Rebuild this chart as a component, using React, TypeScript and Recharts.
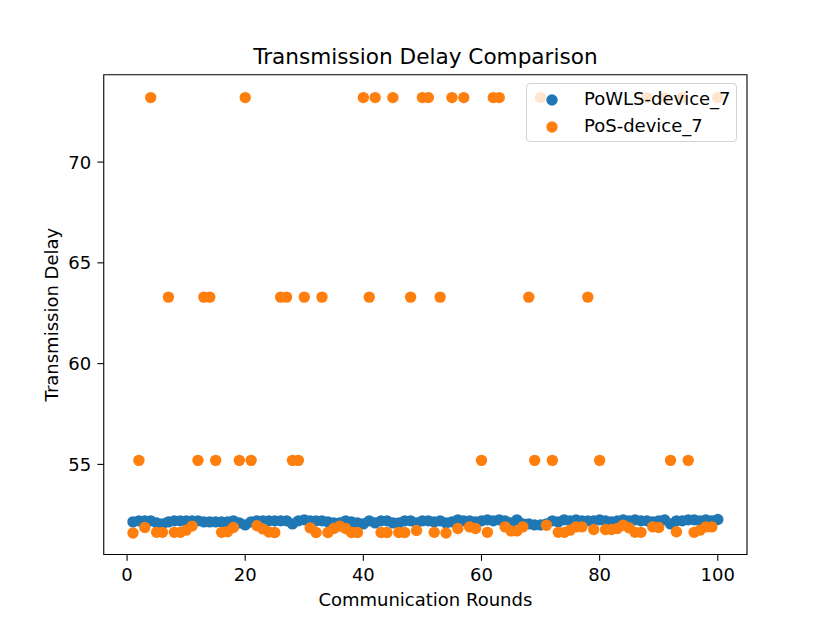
import { ScatterChart, Scatter, XAxis, YAxis, Legend, ReferenceArea } from 'recharts';

// communication rounds (x values)
const rounds = [
  1, 2, 3, 4, 5, 6, 7, 8, 9, 10, 11, 12, 13, 14, 15, 16, 17, 18, 19, 20,
  21, 22, 23, 24, 25, 26, 27, 28, 29, 30, 31, 32, 33, 34, 35, 36, 37, 38, 39, 40,
  41, 42, 43, 44, 45, 46, 47, 48, 49, 50, 51, 52, 53, 54, 55, 56, 57, 58, 59, 60,
  61, 62, 63, 64, 65, 66, 67, 68, 69, 70, 71, 72, 73, 74, 75, 76, 77, 78, 79, 80,
  81, 82, 83, 84, 85, 86, 87, 88, 89, 90, 91, 92, 93, 94, 95, 96, 97, 98, 99, 100,
];

// PoWLS-device_7 delays
const powlsDelay = [
  52.15, 52.2, 52.2, 52.2, 52.1, 52.05, 52.15, 52.2, 52.2, 52.2,
  52.2, 52.2, 52.15, 52.15, 52.15, 52.15, 52.15, 52.2, 52.1, 52.0,
  52.15, 52.2, 52.2, 52.2, 52.2, 52.2, 52.2, 52.05, 52.2, 52.25,
  52.2, 52.2, 52.2, 52.15, 52.1, 52.1, 52.2, 52.15, 52.1, 52.05,
  52.2, 52.1, 52.2, 52.2, 52.1, 52.1, 52.2, 52.2, 52.1, 52.2,
  52.2, 52.15, 52.2, 52.1, 52.15, 52.25, 52.2, 52.2, 52.15, 52.2,
  52.25, 52.2, 52.25, 52.2, 52.1, 52.25, 52.05, 52.05, 52.0, 52.0,
  52.05, 52.2, 52.15, 52.25, 52.2, 52.25, 52.2, 52.2, 52.2, 52.25,
  52.2, 52.15, 52.2, 52.25, 52.2, 52.25, 52.2, 52.2, 52.15, 52.2,
  52.25, 52.05, 52.2, 52.2, 52.25, 52.25, 52.2, 52.25, 52.2, 52.27,
];

// PoS-device_7 delays
const posDelay = [
  51.6, 55.2, 51.87, 73.2, 51.63, 51.63, 63.3, 51.63, 51.63, 51.74,
  51.94, 55.2, 63.3, 63.3, 55.2, 51.63, 51.66, 51.87, 55.2, 73.2,
  55.2, 51.96, 51.8, 51.65, 51.62, 63.3, 63.3, 55.2, 55.2, 63.3,
  51.85, 51.62, 63.3, 51.62, 51.82, 51.94, 51.82, 51.62, 51.62, 73.2,
  63.3, 73.2, 51.62, 51.62, 73.2, 51.62, 51.62, 63.3, 51.72, 73.2,
  73.2, 51.63, 63.3, 51.6, 73.2, 51.82, 73.2, 51.9, 51.82, 55.2,
  51.63, 73.2, 73.2, 51.9, 51.7, 51.7, 51.9, 63.3, 55.2, 73.2,
  51.98, 55.2, 51.63, 51.63, 51.74, 51.9, 51.9, 63.3, 51.77, 55.2,
  51.77, 51.77, 51.82, 51.98, 51.85, 51.63, 51.63, 73.2, 51.9, 51.87,
  73.2, 55.2, 51.66, 73.2, 55.2, 51.63, 51.74, 51.9, 51.9, 73.2,
];

const xTicks = [0, 20, 40, 60, 80, 100];
const yTicks = [55, 60, 65, 70];
const seriesNames = ['PoWLS-device_7', 'PoS-device_7'];
const seriesColors = ['#1f77b4', '#ff7f0e'];

const FONT = 'DejaVu Sans, sans-serif';
const X_DOMAIN = [-3.95, 104.95];
const Y_DOMAIN = [50.53, 74.33];
const DOT_R = 5.7;

const powlsData = rounds.map((x, i) => ({ x, y: powlsDelay[i] }));
const posData = rounds.map((x, i) => ({ x, y: posDelay[i] }));

const dot = (color: string) => (props: any) =>
  <circle cx={props.cx} cy={props.cy} r={DOT_R} fill={color} />;

const XTick = ({ x, y, payload }: any) => (
  <text x={x} y={y} dy={13.5} textAnchor="middle" fontSize={18} fontFamily={FONT} fill="#000">
    {payload.value}
  </text>
);

const YTick = ({ x, y, payload }: any) => (
  <text x={x} y={y} dy={6.5} textAnchor="end" fontSize={18} fontFamily={FONT} fill="#000">
    {payload.value}
  </text>
);

const LegendBox = () => (
  <div
    style={{
      width: 211,
      height: 59,
      boxSizing: 'border-box',
      border: '1px solid #d4d4d4',
      borderRadius: 4,
      background: 'rgba(255,255,255,0.8)',
      fontFamily: FONT,
      fontSize: 18,
      color: '#000',
      paddingTop: 2,
    }}
  >
    {seriesNames.map((name, i) => (
      <div key={name} style={{ display: 'flex', alignItems: 'center', height: 26.7 }}>
        <svg width={57} height={20}>
          <circle cx={25} cy={11} r={DOT_R} fill={seriesColors[i]} />
        </svg>
        <span style={{ lineHeight: 1 }}>{name}</span>
      </div>
    ))}
  </div>
);

export default function App() {
  return (
    <div style={{ position: 'absolute', left: 0, top: 0, width: 830, height: 623, background: '#fff' }}>
      <div
        style={{
          position: 'absolute',
          left: 103.75,
          width: 643.25,
          top: 45.5,
          textAlign: 'center',
          fontFamily: FONT,
          fontSize: 21.6,
          lineHeight: 1,
          color: '#000',
        }}
      >
        Transmission Delay Comparison
      </div>
      <ScatterChart width={830} height={623} margin={{ top: 74.8, right: 83, bottom: 0, left: 0 }}>
        <XAxis
          type="number"
          dataKey="x"
          domain={X_DOMAIN}
          ticks={xTicks}
          allowDataOverflow
          height={68.5}
          axisLine={false}
          tickLine={{ stroke: '#000', strokeWidth: 1.1 }}
          tickSize={6.3}
          tickMargin={6.3}
          tick={<XTick />}
          label={{
            content: ({ viewBox }: any) => (
              <text
                x={viewBox.x + viewBox.width / 2}
                y={606}
                textAnchor="middle"
                fontSize={18}
                fontFamily={FONT}
                fill="#000"
              >
                Communication Rounds
              </text>
            ),
          }}
        />
        <YAxis
          type="number"
          dataKey="y"
          domain={Y_DOMAIN}
          ticks={yTicks}
          allowDataOverflow
          width={103.75}
          axisLine={false}
          tickLine={{ stroke: '#000', strokeWidth: 1.1 }}
          tickSize={6.3}
          tickMargin={6.3}
          tick={<YTick />}
          label={{
            content: ({ viewBox }: any) => {
              const cx = 58;
              const cy = viewBox.y + viewBox.height / 2;
              return (
                <text
                  x={cx}
                  y={cy}
                  transform={`rotate(-90, ${cx}, ${cy})`}
                  textAnchor="middle"
                  fontSize={18}
                  fontFamily={FONT}
                  fill="#000"
                >
                  Transmission Delay
                </text>
              );
            },
          }}
        />
        <Scatter
          name={seriesNames[0]}
          data={powlsData}
          fill={seriesColors[0]}
          shape={dot(seriesColors[0])}
          isAnimationActive={false}
        />
        <Scatter
          name={seriesNames[1]}
          data={posData}
          fill={seriesColors[1]}
          shape={dot(seriesColors[1])}
          isAnimationActive={false}
        />
        <ReferenceArea
          x1={X_DOMAIN[0]}
          x2={X_DOMAIN[1]}
          y1={Y_DOMAIN[0]}
          y2={Y_DOMAIN[1]}
          fill="none"
          stroke="#000"
          strokeWidth={1.1}
          ifOverflow="visible"
        />
        <Legend
          layout="vertical"
          align="center"
          verticalAlign="middle"
          content={<LegendBox />}
          wrapperStyle={{ left: 526, top: 83, width: 211, height: 59 }}
        />
      </ScatterChart>
    </div>
  );
}
